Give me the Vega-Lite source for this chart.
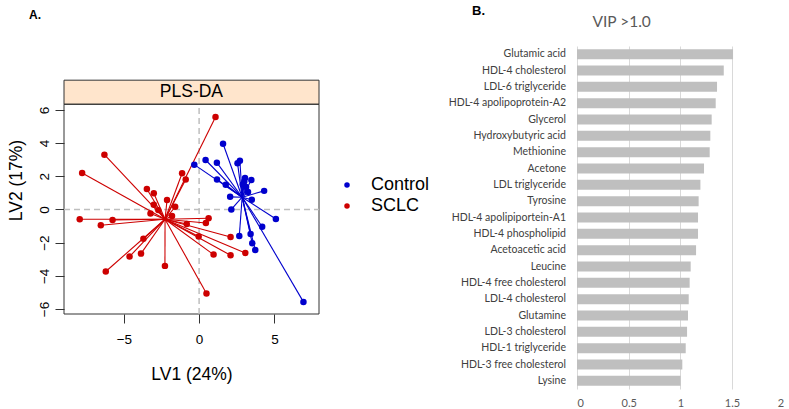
{
  "$schema": "https://vega.github.io/schema/vega-lite/v6.json",
  "background": "white",
  "padding": {"left": 7, "top": 5, "right": 0, "bottom": 0},
  "bounds": "flush",
  "spacing": 258,
  "config": {"font": "Liberation Sans", "view": {"stroke": null}},
  "datasets": {
    "scores": [
      {"group": "SCLC", "x": 1.09, "y": 5.57},
      {"group": "SCLC", "x": -6.29, "y": 3.30},
      {"group": "SCLC", "x": -7.77, "y": 2.20},
      {"group": "SCLC", "x": -1.13, "y": 2.18},
      {"group": "SCLC", "x": -0.89, "y": 1.81},
      {"group": "SCLC", "x": -3.47, "y": 1.23},
      {"group": "SCLC", "x": -3.01, "y": 0.98},
      {"group": "SCLC", "x": -2.13, "y": 0.57},
      {"group": "SCLC", "x": -3.01, "y": 0.28},
      {"group": "SCLC", "x": -1.59, "y": 0.16},
      {"group": "SCLC", "x": -2.71, "y": -0.04},
      {"group": "SCLC", "x": -3.23, "y": -0.25},
      {"group": "SCLC", "x": -1.80, "y": -0.39},
      {"group": "SCLC", "x": -7.93, "y": -0.59},
      {"group": "SCLC", "x": -5.75, "y": -0.63},
      {"group": "SCLC", "x": -6.53, "y": -0.95},
      {"group": "SCLC", "x": 0.63, "y": -0.53},
      {"group": "SCLC", "x": 0.45, "y": -0.82},
      {"group": "SCLC", "x": -0.82, "y": -0.88},
      {"group": "SCLC", "x": -0.03, "y": -1.63},
      {"group": "SCLC", "x": 2.09, "y": -1.66},
      {"group": "SCLC", "x": -3.70, "y": -1.77},
      {"group": "SCLC", "x": -3.86, "y": -2.66},
      {"group": "SCLC", "x": -4.62, "y": -2.84},
      {"group": "SCLC", "x": 0.96, "y": -2.72},
      {"group": "SCLC", "x": 2.09, "y": -2.76},
      {"group": "SCLC", "x": 3.07, "y": -2.62},
      {"group": "SCLC", "x": -2.27, "y": -3.40},
      {"group": "SCLC", "x": -6.20, "y": -3.74},
      {"group": "SCLC", "x": 0.49, "y": -5.07},
      {"group": "Control", "x": 1.59, "y": 3.96},
      {"group": "Control", "x": -0.32, "y": 2.70},
      {"group": "Control", "x": 0.43, "y": 2.98},
      {"group": "Control", "x": 1.18, "y": 2.82},
      {"group": "Control", "x": 2.55, "y": 2.79},
      {"group": "Control", "x": 2.71, "y": 2.93},
      {"group": "Control", "x": 1.19, "y": 1.81},
      {"group": "Control", "x": 1.77, "y": 1.49},
      {"group": "Control", "x": 3.00, "y": 1.68},
      {"group": "Control", "x": 3.47, "y": 1.78},
      {"group": "Control", "x": 3.12, "y": 1.36},
      {"group": "Control", "x": 3.25, "y": 1.05},
      {"group": "Control", "x": 4.32, "y": 1.12},
      {"group": "Control", "x": 2.06, "y": 0.76},
      {"group": "Control", "x": 3.50, "y": 0.59},
      {"group": "Control", "x": 2.14, "y": 0.00},
      {"group": "Control", "x": 5.10, "y": -0.58},
      {"group": "Control", "x": 4.19, "y": -1.04},
      {"group": "Control", "x": 2.67, "y": -1.60},
      {"group": "Control", "x": 3.42, "y": -1.48},
      {"group": "Control", "x": 3.53, "y": -2.04},
      {"group": "Control", "x": 3.73, "y": -2.45},
      {"group": "Control", "x": 6.93, "y": -5.57},
      {"group": "Control", "x": 3.05, "y": 1.90},
      {"group": "Control", "x": 2.90, "y": 1.50}
    ],
    "vip": [
      {"metabolite": "Glutamic acid", "vip": 1.51},
      {"metabolite": "HDL-4 cholesterol", "vip": 1.42},
      {"metabolite": "LDL-6 triglyceride", "vip": 1.355},
      {"metabolite": "HDL-4 apolipoprotein-A2", "vip": 1.342},
      {"metabolite": "Glycerol", "vip": 1.303},
      {"metabolite": "Hydroxybutyric acid", "vip": 1.29},
      {"metabolite": "Methionine", "vip": 1.284},
      {"metabolite": "Acetone", "vip": 1.229},
      {"metabolite": "LDL triglyceride", "vip": 1.194},
      {"metabolite": "Tyrosine", "vip": 1.177},
      {"metabolite": "HDL-4 apolipiportein-A1", "vip": 1.171},
      {"metabolite": "HDL-4 phospholipid", "vip": 1.171},
      {"metabolite": "Acetoacetic acid", "vip": 1.152},
      {"metabolite": "Leucine", "vip": 1.10},
      {"metabolite": "HDL-4 free cholesterol", "vip": 1.09},
      {"metabolite": "LDL-4 cholesterol", "vip": 1.081},
      {"metabolite": "Glutamine", "vip": 1.074},
      {"metabolite": "LDL-3 cholesterol", "vip": 1.065},
      {"metabolite": "HDL-1 triglyceride", "vip": 1.052},
      {"metabolite": "HDL-3 free cholesterol", "vip": 1.019},
      {"metabolite": "Lysine", "vip": 1.003}
    ],
    "strip": [{"label": "PLS-DA"}]
  },
  "hconcat": [
    {
      "width": 255,
      "height": 268,
      "title": {"text": "A.", "anchor": "start", "frame": "group", "dx": -35, "offset": 24, "fontSize": 12, "fontWeight": "bold", "color": "black", "font": "Liberation Sans"},
      "layer": [
        {
          "data": {"name": "strip"},
          "mark": {"type": "rect", "fill": "#FFE5CC", "stroke": "#333333", "strokeWidth": 1},
          "encoding": {
            "x": {"datum": -8.975, "type": "quantitative", "title": "LV1 (24%)"},
            "x2": {"datum": 7.964},
            "y": {"datum": 6.34, "type": "quantitative", "title": "LV2 (17%)"},
            "y2": {"datum": 7.79}
          }
        },
        {
          "data": {"name": "strip"},
          "mark": {"type": "rect", "fill": null, "fillOpacity": 0, "stroke": "#333333", "strokeWidth": 1},
          "encoding": {
            "x": {"datum": -8.975, "type": "quantitative", "title": "LV1 (24%)"},
            "x2": {"datum": 7.964},
            "y": {"datum": -6.30, "type": "quantitative", "title": "LV2 (17%)"},
            "y2": {"datum": 6.34}
          }
        },
        {
          "data": {"name": "strip"},
          "mark": {"type": "text", "fontSize": 17.5, "color": "black", "font": "Liberation Sans"},
          "encoding": {
            "x": {"datum": -0.51, "type": "quantitative", "title": "LV1 (24%)"},
            "y": {"datum": 7.065, "type": "quantitative", "title": "LV2 (17%)"},
            "text": {"field": "label"}
          }
        },
        {
          "data": {"name": "strip"},
          "mark": {"type": "rule", "strokeDash": [6, 4], "color": "#BEBEBE", "strokeWidth": 1.5},
          "encoding": {
            "x": {"datum": 0, "type": "quantitative", "title": "LV1 (24%)"},
            "y": {"datum": -6.30, "type": "quantitative", "title": "LV2 (17%)"},
            "y2": {"datum": 6.34}
          }
        },
        {
          "data": {"name": "strip"},
          "mark": {"type": "rule", "strokeDash": [6, 4], "color": "#BEBEBE", "strokeWidth": 1.5},
          "encoding": {
            "y": {"datum": 0, "type": "quantitative", "title": "LV2 (17%)"},
            "x": {"datum": -8.975, "type": "quantitative", "title": "LV1 (24%)"},
            "x2": {"datum": 7.964}
          }
        },
        {
          "data": {"name": "scores"},
          "transform": [
            {"joinaggregate": [{"op": "mean", "field": "x", "as": "cx"}, {"op": "mean", "field": "y", "as": "cy"}], "groupby": ["group"]}
          ],
          "mark": {"type": "rule", "strokeWidth": 1.1},
          "encoding": {
            "x": {"field": "x", "type": "quantitative", "title": "LV1 (24%)"},
            "y": {"field": "y", "type": "quantitative", "title": "LV2 (17%)"},
            "x2": {"field": "cx"},
            "y2": {"field": "cy"},
            "stroke": {"condition": {"test": "datum.group === 'Control'", "value": "#0000CD"}, "value": "#CD0000"}
          }
        },
        {
          "data": {"name": "scores"},
          "mark": {"type": "point", "filled": true, "opacity": 1, "size": 42},
          "encoding": {
            "x": {
              "field": "x", "type": "quantitative", "title": "LV1 (24%)",
              "scale": {"domain": [-8.975, 7.964], "nice": false, "zero": false},
              "axis": {"values": [-5, 0, 5], "grid": false, "domain": false, "tickSize": 9, "tickColor": "#333333", "labelFontSize": 13.5, "labelColor": "black", "labelPadding": 9, "titleFontSize": 17.5, "titleFontWeight": "normal", "titleColor": "black", "titlePadding": 20}
            },
            "y": {
              "field": "y", "type": "quantitative", "title": "LV2 (17%)",
              "scale": {"domain": [-6.30, 9.85], "nice": false, "zero": false},
              "axis": {"values": [-6, -4, -2, 0, 2, 4, 6], "grid": false, "domain": false, "tickSize": 9, "tickColor": "#333333", "labelAngle": -90, "labelAlign": "center", "labelBaseline": "bottom", "labelFontSize": 13.5, "labelColor": "black", "labelPadding": 4, "titleFontSize": 17.5, "titleFontWeight": "normal", "titleColor": "black", "titlePadding": 12}
            },
            "color": {
              "field": "group", "type": "nominal",
              "scale": {"domain": ["Control", "SCLC"], "range": ["#0000CD", "#CD0000"]},
              "legend": {"title": null, "orient": "none", "legendX": 274, "legendY": 130, "labelFontSize": 18, "labelColor": "black", "symbolSize": 30, "symbolType": "circle", "labelOffset": 15, "rowPadding": 3, "padding": 0}
            }
          }
        }
      ]
    },
    {
      "width": 206.7,
      "height": 343,
      "data": {"name": "vip"},
      "title": {"text": "B.", "anchor": "start", "frame": "group", "dx": -105, "offset": -4, "fontSize": 13, "fontWeight": "bold", "color": "black", "font": "Liberation Sans"},
      "layer": [
        {
          "mark": {"type": "bar", "color": "#BFBFBF"},
          "encoding": {
            "y": {
              "field": "metabolite", "type": "nominal", "sort": null, "title": null,
              "scale": {"paddingInner": 0.39, "paddingOuter": 0.195},
              "axis": {"domain": false, "ticks": false, "labelFont": "Lato", "labelFontSize": 10.5, "labelColor": "#404040", "labelPadding": 11.5, "labelLimit": 300}
            },
            "x": {
              "field": "vip", "type": "quantitative", "title": null,
              "scale": {"domain": [0, 2], "nice": false},
              "axis": {"orient": "bottom", "values": [0, 0.5, 1, 1.5, 2], "format": "~g", "grid": true, "gridColor": "#D9D9D9", "gridWidth": 1, "domain": false, "ticks": false, "labelFont": "Lato", "labelFontSize": 11, "labelColor": "#595959", "labelPadding": 8}
            }
          }
        },
        {
          "mark": {"type": "bar", "opacity": 0},
          "encoding": {
            "y": {"field": "metabolite", "type": "nominal", "sort": null, "title": null},
            "x": {
              "field": "vip", "type": "quantitative", "title": "VIP >1.0",
              "axis": {"orient": "top", "labels": false, "ticks": false, "domain": false, "grid": false, "titleFont": "Lato", "titleFontSize": 15.5, "titleFontWeight": "normal", "titleColor": "#595959", "titlePadding": 17, "titleAnchor": "start", "titleAlign": "left", "titleX": 15}
            }
          }
        }
      ],
      "resolve": {"axis": {"x": "independent"}}
    }
  ]
}
